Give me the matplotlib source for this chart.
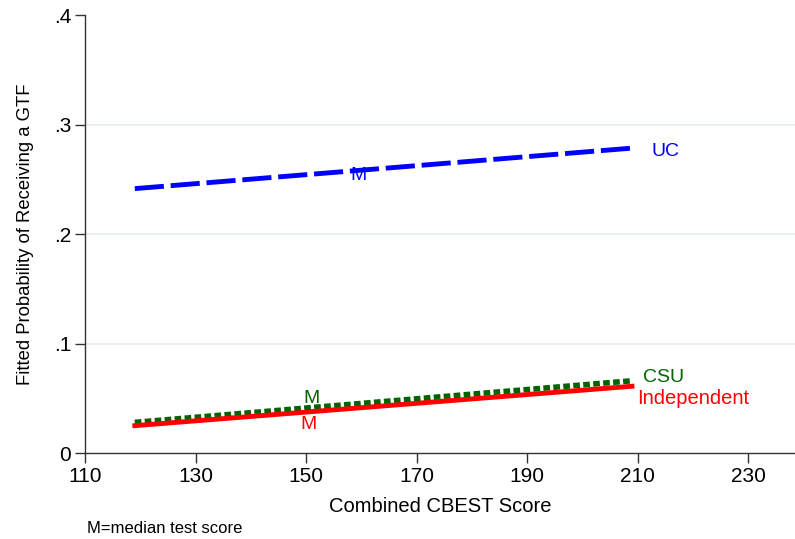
import matplotlib
matplotlib.use("Agg")
import matplotlib.pyplot as plt

plt.rcParams['font.family'] = ['Liberation Sans', 'DejaVu Sans']

score_range = [119, 209]
uc_prob = [0.2415, 0.2785]
csu_prob = [0.028, 0.066]
ind_prob = [0.025, 0.061]
median_uc = (159.5, 0.2535)
median_csu = (151, 0.0495)
median_ind = (150.5, 0.0265)
x_ticks = [110, 130, 150, 170, 190, 210, 230]
y_ticks = [0, 0.1, 0.2, 0.3, 0.4]
y_labels = ['0', '.1', '.2', '.3', '.4']

fig = plt.figure(figsize=(7.95, 5.39), dpi=100)
ax = fig.add_axes([0.107, 0.1595, 0.893, 0.8125])

ax.plot(score_range, uc_prob, color='#0000ff', lw=3.5, ls=(0, (6, 1.4)), solid_capstyle='butt')
ax.plot(score_range, csu_prob, color='#006400', lw=4, ls=(0, (1.2, 0.6)))
ax.plot(score_range, ind_prob, color='#ff0000', lw=3.5)

ax.text(212.5, 0.275, 'UC', color='#0000ff', fontsize=14, va='center', ha='left')
ax.text(211, 0.069, 'CSU', color='#006400', fontsize=14, va='center', ha='left')
ax.text(210, 0.050, 'Independent', color='#ff0000', fontsize=14.5, va='center', ha='left')
ax.text(*median_uc, 'M', color='#0000ff', fontsize=14, va='center', ha='center')
ax.text(*median_csu, 'M', color='#006400', fontsize=14, va='center', ha='center')
ax.text(*median_ind, 'M', color='#ff0000', fontsize=14, va='center', ha='center')

ax.set_xlim(110, 238.5)
ax.set_ylim(0, 0.4)
ax.set_xticks(x_ticks)
ax.set_xticklabels([str(t) for t in x_ticks], fontsize=15)
ax.set_yticks(y_ticks)
ax.set_yticklabels(y_labels, fontsize=15)
for y in y_ticks[1:4]:
    ax.axhline(y, color='#e4eef2', lw=1.2, zorder=0)
ax.spines['top'].set_visible(False)
ax.spines['right'].set_visible(False)
for s in ['left', 'bottom']:
    ax.spines[s].set_color('#333333')
    ax.spines[s].set_linewidth(1)
ax.tick_params(direction='out', length=7, width=1, color='#333333', pad=3)
ax.set_xlabel('Combined CBEST Score', fontsize=14.5, labelpad=8)
ax.set_ylabel('Fitted Probability of Receiving a GTF', fontsize=13.3, labelpad=14)
fig.text(0.11, 0.006, 'M=median test score', fontsize=12,
         family=['Liberation Sans Narrow', 'Liberation Sans'], ha='left', va='bottom')

fig.savefig('out.png', dpi=100)
